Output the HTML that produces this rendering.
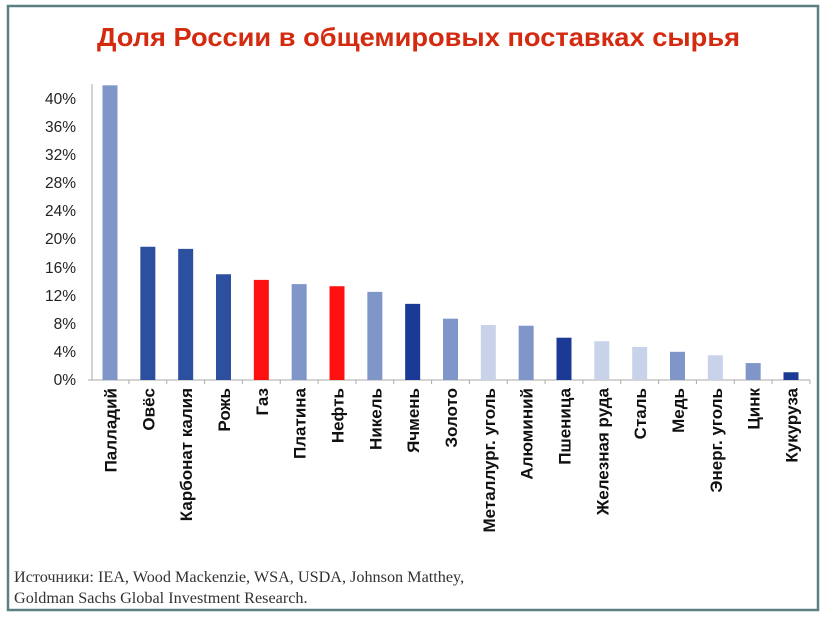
<!DOCTYPE html>
<html><head><meta charset="utf-8"><style>
body{margin:0;background:#fff;width:825px;height:618px;overflow:hidden;font-family:"Liberation Sans",sans-serif}
</style></head><body>
<svg width="825" height="618" xmlns="http://www.w3.org/2000/svg" font-family="Liberation Sans, sans-serif">
<rect x="8" y="6" width="810" height="604" fill="#fff" stroke="#5c8082" stroke-width="2.5"/>
<text x="97" y="46" textLength="643" lengthAdjust="spacingAndGlyphs" font-size="26" font-weight="bold" fill="#d42a10">Доля России в общемировых поставках сырья</text>
<g font-size="15.5" fill="#222" text-anchor="end">
<text x="76" y="385">0%</text><text x="76" y="357">4%</text><text x="76" y="329">8%</text>
<text x="76" y="301">12%</text><text x="76" y="273">16%</text><text x="76" y="244">20%</text>
<text x="76" y="216">24%</text><text x="76" y="188">28%</text><text x="76" y="160">32%</text>
<text x="76" y="132">36%</text><text x="76" y="104">40%</text>
</g>
<line x1="92" y1="84" x2="92" y2="380" stroke="#aaa"/>
<line x1="88" y1="380" x2="810" y2="380" stroke="#aaa"/>
<g id="bars"></g>
</svg>
<script>
const d=[["Палладий",41.8,"#8096c8"],["Овёс",18.9,"#2c4fa0"],["Карбонат калия",18.6,"#2c4fa0"],["Рожь",15,"#2c4fa0"],["Газ",14.2,"#ff1010"],["Платина",13.6,"#8096c8"],["Нефть",13.3,"#ff1010"],["Никель",12.5,"#8096c8"],["Ячмень",10.8,"#1a3a96"],["Золото",8.7,"#8096c8"],["Металлург. уголь",7.8,"#c8d2e8"],["Алюминий",7.7,"#8096c8"],["Пшеница",6,"#1a3a96"],["Железная руда",5.5,"#c8d2e8"],["Сталь",4.7,"#c8d2e8"],["Медь",4,"#8096c8"],["Энерг. уголь",3.5,"#c8d2e8"],["Цинк",2.4,"#8096c8"],["Кукуруза",1.1,"#1a3a96"]];
let s="";const n=d.length;
const step=(791-110)/(n-1);
d.forEach((r,i)=>{const cx=110+i*step;const h=r[1]*7.05;
s+=`<rect x="${cx-7.5}" y="${380-h}" width="15" height="${h}" fill="${r[2]}"/>`;
s+=`<line x1="${cx+step/2}" y1="380" x2="${cx+step/2}" y2="384" stroke="#aaa"/>`;
s+=`<text transform="translate(${cx+6.5},388) rotate(-90)" text-anchor="end" font-size="17" font-weight="bold" fill="#111">${r[0]}</text>`;});
document.getElementById("bars").innerHTML=s;
</script>
<div style="position:absolute;left:14px;top:567px;font-family:'Liberation Serif',serif;font-size:16.2px;color:#333;line-height:21px">Источники: IEA, Wood Mackenzie, WSA, USDA, Johnson Matthey,<br>Goldman Sachs Global Investment Research.</div>
</body></html>
